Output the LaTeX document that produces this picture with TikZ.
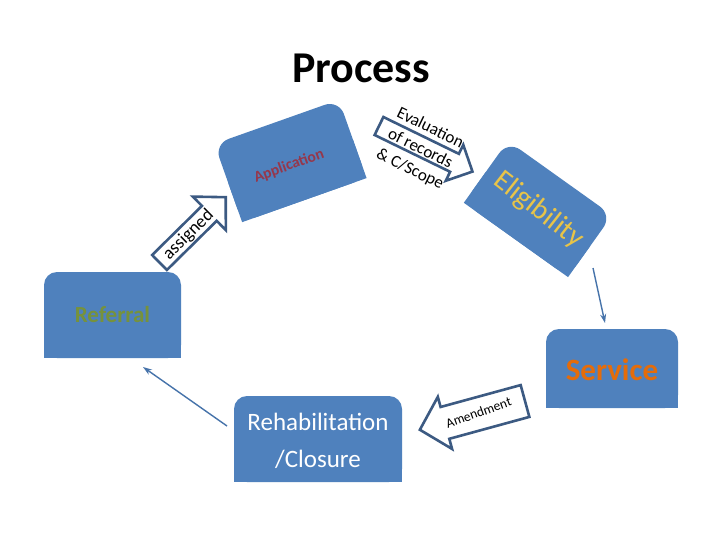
\documentclass[tikz,border=0pt]{standalone}
\usepackage{fontspec}
\setmainfont{Carlito}
\usetikzlibrary{arrows.meta}
\definecolor{boxblue}{RGB}{79,129,189}
\definecolor{arrline}{RGB}{60,90,130}
\definecolor{thinblue}{RGB}{70,115,170}
\definecolor{refgreen}{RGB}{118,146,60}
\definecolor{servorange}{RGB}{228,108,10}
\definecolor{appred}{RGB}{150,55,75}
\definecolor{eliggold}{RGB}{232,196,72}
\tikzset{
  bx/.style={fill=boxblue, rounded corners=13pt, inner sep=0pt, outer sep=0pt},
  blockarr/.style={draw=arrline, line width=2.6pt, fill=white, line join=miter},
  thinarr/.style={draw=thinblue, line width=1.4pt, -{Stealth[length=9pt,width=6pt]}},
}
% name, x, y, angle, length, shaft, head width, head length
\newcommand{\blockarrow}[8]{%
  \coordinate (#1) at (#2,#3);
  \begin{scope}[shift={(#1)}, rotate=#4]
    \draw[blockarr] (0,{-#6/2}) -- ({#5-#8},{-#6/2}) -- ({#5-#8},{-#7/2}) -- (#5,0)
      -- ({#5-#8},{#7/2}) -- ({#5-#8},{#6/2}) -- (0,{#6/2}) -- cycle;
  \end{scope}}
% square off the lower corners of a rounded box
\newcommand{\squarebottom}[1]{%
  \fill[boxblue] (#1.west) -- (#1.east) -- (#1.south east) -- (#1.south west) -- cycle;}
\begin{document}
\begin{tikzpicture}[x=1pt,y=-1pt]
\useasboundingbox (0,0) rectangle (720,540);
\fill[white] (0,0) rectangle (720,540);

% title
\node[font=\bfseries\fontsize{44}{50}\selectfont, anchor=base] (title) at (361,83) {Process};

% boxes
\node[bx, minimum width=137pt, minimum height=86pt] (ref) at (112.5,315) {};
\squarebottom{ref}
\node[bx, minimum width=132pt, minimum height=79pt] (serv) at (612,368.5) {};
\squarebottom{serv}
\node[bx, minimum width=168pt, minimum height=86pt] (rehab) at (318,439) {};
\squarebottom{rehab}
\node[bx, rotate=19.5, minimum width=132pt, minimum height=83pt, rounded corners=15pt] (app) at (290.5,161) {};
\squarebottom{app}
\node[bx, rotate=-35.5, minimum width=128pt, minimum height=76pt, rounded corners=15pt] (elig) at (538,209) {};
\squarebottom{elig}

% box texts
\node[text=refgreen, font=\bfseries\fontsize{23}{27}\selectfont] (reft) at (ref.center) {Referral};
\node[text=servorange, font=\bfseries\fontsize{31}{36}\selectfont] (servt) at (612,370) {Service};
\node[text=white, align=center, font=\fontsize{25}{37}\selectfont] (rehabt) at (318,441) {Rehabilitation\\/Closure};
\node[text=appred, rotate=20, font=\bfseries\fontsize{15.5}{18}\selectfont] (appt) at (289,166) {Application};
\node[text=eliggold, rotate=-38, font=\fontsize{29}{34}\selectfont] (eligt) at (538.5,210) {Eligibility};

% block arrows
\blockarrow{asgtail}{159.5}{262.5}{44.6}{93}{21}{47}{23}
\node[rotate=44.5, font=\fontsize{18}{20}\selectfont] (asgt) at (188.5,235) {assigned};

\blockarrow{evtail}{379}{126}{-26}{104}{20}{40}{20}
\node[rotate=-26, align=center, font=\fontsize{17}{23}\selectfont] (evt) at (420,149) {Evaluation\\of records\\\& C/Scope};

\blockarrow{amtail}{525}{401}{195.3}{109}{33}{54}{26}
\node[rotate=20, font=\fontsize{13.5}{16}\selectfont] (amt) at (478.5,412.5) {Amendment};

% thin arrows
\coordinate (e1) at (593,268);
\coordinate (s1) at (605,323);
\draw[thinarr] (e1) -- (s1);
\coordinate (r1) at (227,426);
\coordinate (r2) at (143,367);
\draw[thinarr] (r1) -- (r2);
\end{tikzpicture}
\end{document}
